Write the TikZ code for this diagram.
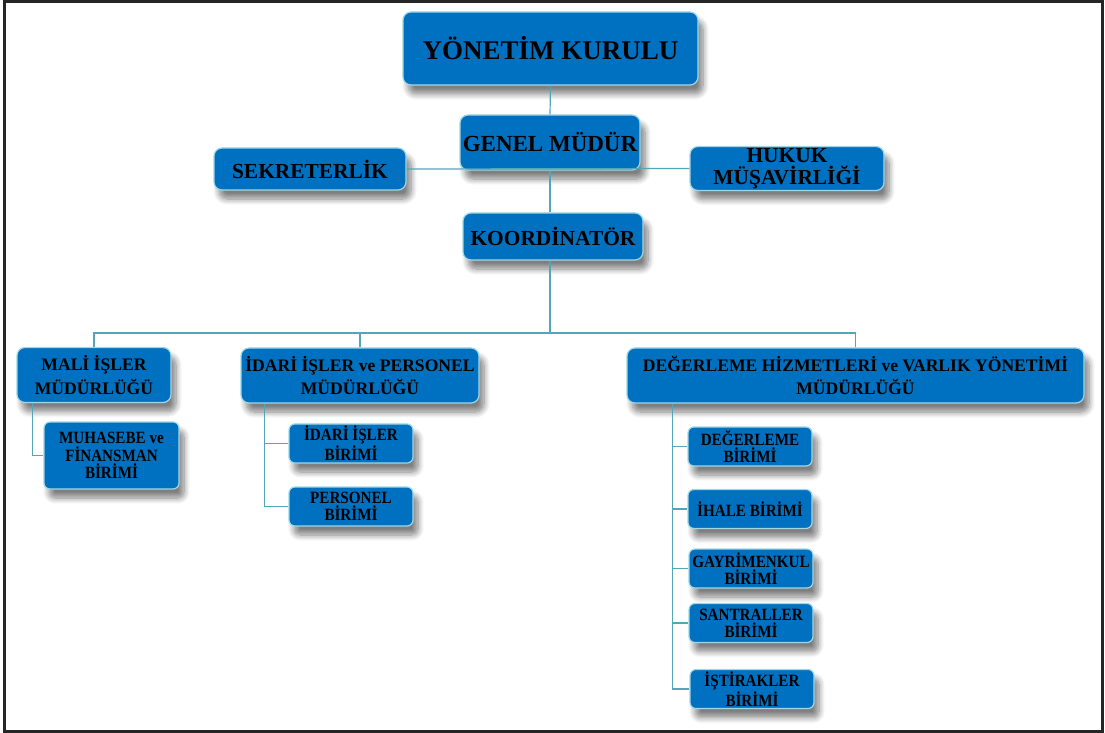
\documentclass[tikz,border=0pt]{standalone}
\usepackage{fontspec}
\setmainfont{Liberation Serif}
\newfontfamily\unitfont{Liberation Serif}[FakeStretch=0.88]
\usetikzlibrary{shadows.blur}
\definecolor{boxblue}{RGB}{0,112,192}
\definecolor{boxedge}{RGB}{160,215,228}
\definecolor{linkteal}{RGB}{82,166,182}
\begin{document}
\begin{tikzpicture}[x=0.5pt, y=-0.5pt,
        orgbox/.style={rectangle, rounded corners=4pt, fill=boxblue, draw=boxedge, line width=0.6pt, text=black, align=center, inner sep=1pt,
            blur shadow={shadow xshift=2.5pt, shadow yshift=-4.5pt, shadow blur radius=3pt, shadow blur steps=8, shadow opacity=50}},
        topbox/.style={orgbox, font=\bfseries\fontsize{10.7}{10.8}\selectfont},
        deptbox/.style={orgbox, minimum height=27.5pt, font=\bfseries\fontsize{8.8}{11.7}\selectfont},
        unitbox/.style={orgbox, rounded corners=3pt, minimum width=62pt, minimum height=19.5pt, font=\unitfont\bfseries\fontsize{8.6}{8.6}\selectfont},
        link/.style={draw=linkteal, line width=0.6pt}]
        \useasboundingbox (0, 0) rectangle (1105, 733);
        \draw[line width=1.2pt, black!85] (4.5, 1.5) rectangle (1102.5, 731.5);
        % top of the chart
        \node[topbox, minimum width=147.5pt, minimum height=36.5pt, font=\bfseries\fontsize{13.5}{13.5}\selectfont] (yk) at (550.5, 48.5) {YÖNETİM KURULU};
        \node[topbox, minimum width=90pt, minimum height=27.5pt, font=\bfseries\fontsize{11.5}{11.5}\selectfont] (gm) at (550, 142.5) {GENEL MÜDÜR};
        \node[topbox, minimum width=96pt, minimum height=21pt] (sek) at (310, 169) {SEKRETERLİK};
        \node[topbox, minimum width=97pt, minimum height=21.5pt] (huk) at (787, 168.5) {HUKUK\\MÜŞAVİRLİĞİ};
        \node[topbox, minimum width=90pt, minimum height=23.5pt] (koo) at (553, 236.5) {KOORDİNATÖR};
        % departments
        \node[deptbox, minimum width=77pt] (mali) at (94, 375) {MALİ İŞLER\\MÜDÜRLÜĞÜ};
        \node[deptbox, minimum width=119pt] (idari) at (360, 375.5) {İDARİ İŞLER ve PERSONEL\\MÜDÜRLÜĞÜ};
        \node[deptbox, minimum width=228.5pt] (deg) at (855.5, 375.5) {DEĞERLEME HİZMETLERİ ve VARLIK YÖNETİMİ\\MÜDÜRLÜĞÜ};
        % units
        \node[unitbox, minimum width=67.5pt, minimum height=33.5pt] (muh) at (111.5, 455.5) {MUHASEBE ve\\FİNANSMAN\\BİRİMİ};
        \node[unitbox] (idb) at (351, 443.5) {İDARİ İŞLER\\BİRİMİ};
        \node[unitbox] (per) at (351, 506.5) {PERSONEL\\BİRİMİ};
        \node[unitbox] (ub1) at (750, 446.5) {DEĞERLEME\\BİRİMİ};
        \node[unitbox] (ub2) at (750, 509) {İHALE BİRİMİ};
        \node[unitbox] (ub3) at (751, 568.5) {GAYRİMENKUL\\BİRİMİ};
        \node[unitbox] (ub4) at (751, 623) {SANTRALLER\\BİRİMİ};
        \node[unitbox] (ub5) at (752, 689) {İŞTİRAKLER\\BİRİMİ};
        % connectors
        \draw[link] (yk.south) -- (gm.north);
        \draw[link] (sek.east) -- (huk.west);
        \draw[link] (gm.south) -- (gm.south |- koo.north);
        \coordinate (bus) at (550, 333);
        \draw[link] (gm.south |- koo.south) -- (bus);
        \draw[link] (mali.north) |- (bus) -| (deg.north);
        \draw[link] (idari.north) -- (idari.north |- bus);
        \draw[link] ([xshift=8pt]mali.south west) |- (muh.west);
        \coordinate (iv) at ([xshift=12pt]idari.south west);
        \draw[link] (iv) |- (per.west);
        \draw[link] (iv |- idb.west) -- (idb.west);
        \coordinate (dv) at ([xshift=23pt]deg.south west);
        \draw[link] (dv) |- (ub5.west);
        \foreach \u in {ub1, ub2, ub3, ub4}
            \draw[link] (dv |- \u.west) -- (\u.west);
\end{tikzpicture}
\end{document}
